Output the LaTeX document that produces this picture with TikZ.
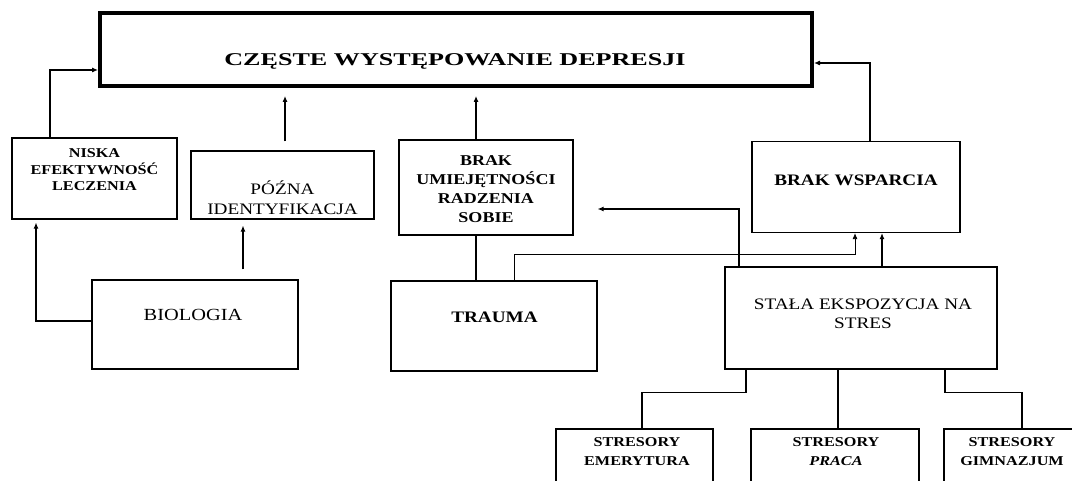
\documentclass[tikz,border=0pt]{standalone}
\usepackage{fontspec}
\newfontfamily\scanfont[FakeStretch=1.2]{Liberation Serif}
\newfontfamily\titlefont[FakeStretch=1.45]{Liberation Serif}
\usetikzlibrary{arrows.meta}

\begin{document}
\begin{tikzpicture}[x=1pt, y=-1pt,
    box/.style={draw, line width=1.2pt, inner sep=0pt},
    lbl/.style={align=center, inner sep=0pt},
    arr/.style={-{Latex[length=6pt,width=5pt]}, line width=1.1pt},
    link/.style={line width=1.1pt}]

  \useasboundingbox (0,0) rectangle (1072,481);
  \clip (0,0) rectangle (1072,481);

  % top box
  \node[box, line width=4pt, minimum width=712, minimum height=73] (main) at (456,49.5) {};
  \node[lbl, font=\titlefont\bfseries\fontsize{18}{22}\selectfont] (mainT) at (455,61) {CZĘSTE WYSTĘPOWANIE DEPRESJI};

  % middle row
  \node[box, minimum width=165, minimum height=81] (niska) at (94.5,178.5) {};
  \node[lbl, font=\scanfont\bfseries\fontsize{13.5}{16.5}\selectfont] (niskaT) at (94.5,170) {NISKA\\EFEKTYWNOŚĆ\\LECZENIA};

  \node[box, minimum width=183, minimum height=68] (pozna) at (282.5,185) {};
  \node[lbl, font=\scanfont\fontsize{16}{20}\selectfont] (poznaT) at (282.5,198) {PÓŹNA\\IDENTYFIKACJA};

  \node[box, minimum width=174, minimum height=95] (umiej) at (486,187.5) {};
  \node[lbl, font=\scanfont\bfseries\fontsize{15}{19}\selectfont] (umiejT) at (486,189) {BRAK\\UMIEJĘTNOŚCI\\RADZENIA\\SOBIE};

  \node[box, minimum width=208, minimum height=91] (wsparcia) at (856,187) {};
  \node[lbl, font=\scanfont\bfseries\fontsize{16}{20}\selectfont] (wsparciaT) at (856,180) {BRAK WSPARCIA};

  % lower row
  \node[box, minimum width=206, minimum height=89] (biologia) at (195,324.5) {};
  \node[lbl, font=\scanfont\fontsize{17}{20}\selectfont] (biologiaT) at (193,315) {BIOLOGIA};

  \node[box, minimum width=206, minimum height=90] (trauma) at (494,326) {};
  \node[lbl, font=\scanfont\bfseries\fontsize{16}{20}\selectfont] (traumaT) at (494.5,317) {TRAUMA};

  \node[box, minimum width=272, minimum height=102] (stala) at (861,318) {};
  \node[lbl, font=\scanfont\fontsize{16}{19}\selectfont] (stalaT) at (863,314) {STAŁA EKSPOZYCJA NA\\STRES};

  % stressors
  \node[box, minimum width=157, minimum height=72] (emer) at (634.5,465) {};
  \node[lbl, font=\scanfont\bfseries\fontsize{13.5}{19}\selectfont] (emerT) at (637,452) {STRESORY\\EMERYTURA};

  \node[box, minimum width=168, minimum height=72] (praca) at (835,465) {};
  \node[lbl, font=\scanfont\bfseries\fontsize{13.5}{19}\selectfont] (pracaT) at (836,452) {STRESORY\\\textit{PRACA}};

  \node[box, minimum width=141, minimum height=72] (gimn) at (1014.5,465) {};
  \node[lbl, font=\scanfont\bfseries\fontsize{13.5}{19}\selectfont] (gimnT) at (1012,452) {STRESORY\\GIMNAZJUM};

  % arrows to the top box
  \draw[arr] ([xshift=-44.5pt]niska.north) |- ([yshift=-20.5pt]main.west);
  \draw[arr, shorten <=9pt, shorten >=8pt] ([xshift=2.5pt]pozna.north) -- ([xshift=2.5pt]pozna.north |- main.south);
  \draw[arr, shorten >=8pt] ([xshift=-10pt]umiej.north) -- ([xshift=-10pt]umiej.north |- main.south);
  \draw[arr] ([xshift=14pt]wsparcia.north) |- ([yshift=-13.5pt]main.east);

  % biologia
  \draw[arr, shorten >=3pt] ([yshift=3.5pt]biologia.west) -| ([xshift=-58.5pt]niska.south);
  \draw[arr, shorten <=10pt, shorten >=6pt] ([xshift=48pt]biologia.north) -- ([xshift=48pt]biologia.north |- pozna.south);

  % trauma
  \draw[link] ([xshift=-10pt]umiej.south) -- ([xshift=-10pt]umiej.south |- trauma.north);
  \draw[arr, line width=0.8pt] ([xshift=20pt]trauma.north) -- ++(0,-26) -| ([xshift=-1pt]wsparcia.south);

  % stala
  \draw[arr] ([xshift=-122pt]stala.north) |- ([xshift=24pt,yshift=-21.5pt]umiej.east);
  \draw[arr] ([xshift=21pt]stala.north) -- ([xshift=21pt]stala.north |- wsparcia.south);
  \draw[link] ([xshift=-115pt]stala.south) -- ++(0,23) -| ([xshift=7.5pt]emer.north);
  \draw[link, line width=1.6pt] ([xshift=-23pt]stala.south) -- ([xshift=-23pt]stala.south |- praca.north);
  \draw[link] ([xshift=84pt]stala.south) -- ++(0,23) -| ([xshift=7.5pt]gimn.north);

\end{tikzpicture}
\end{document}
